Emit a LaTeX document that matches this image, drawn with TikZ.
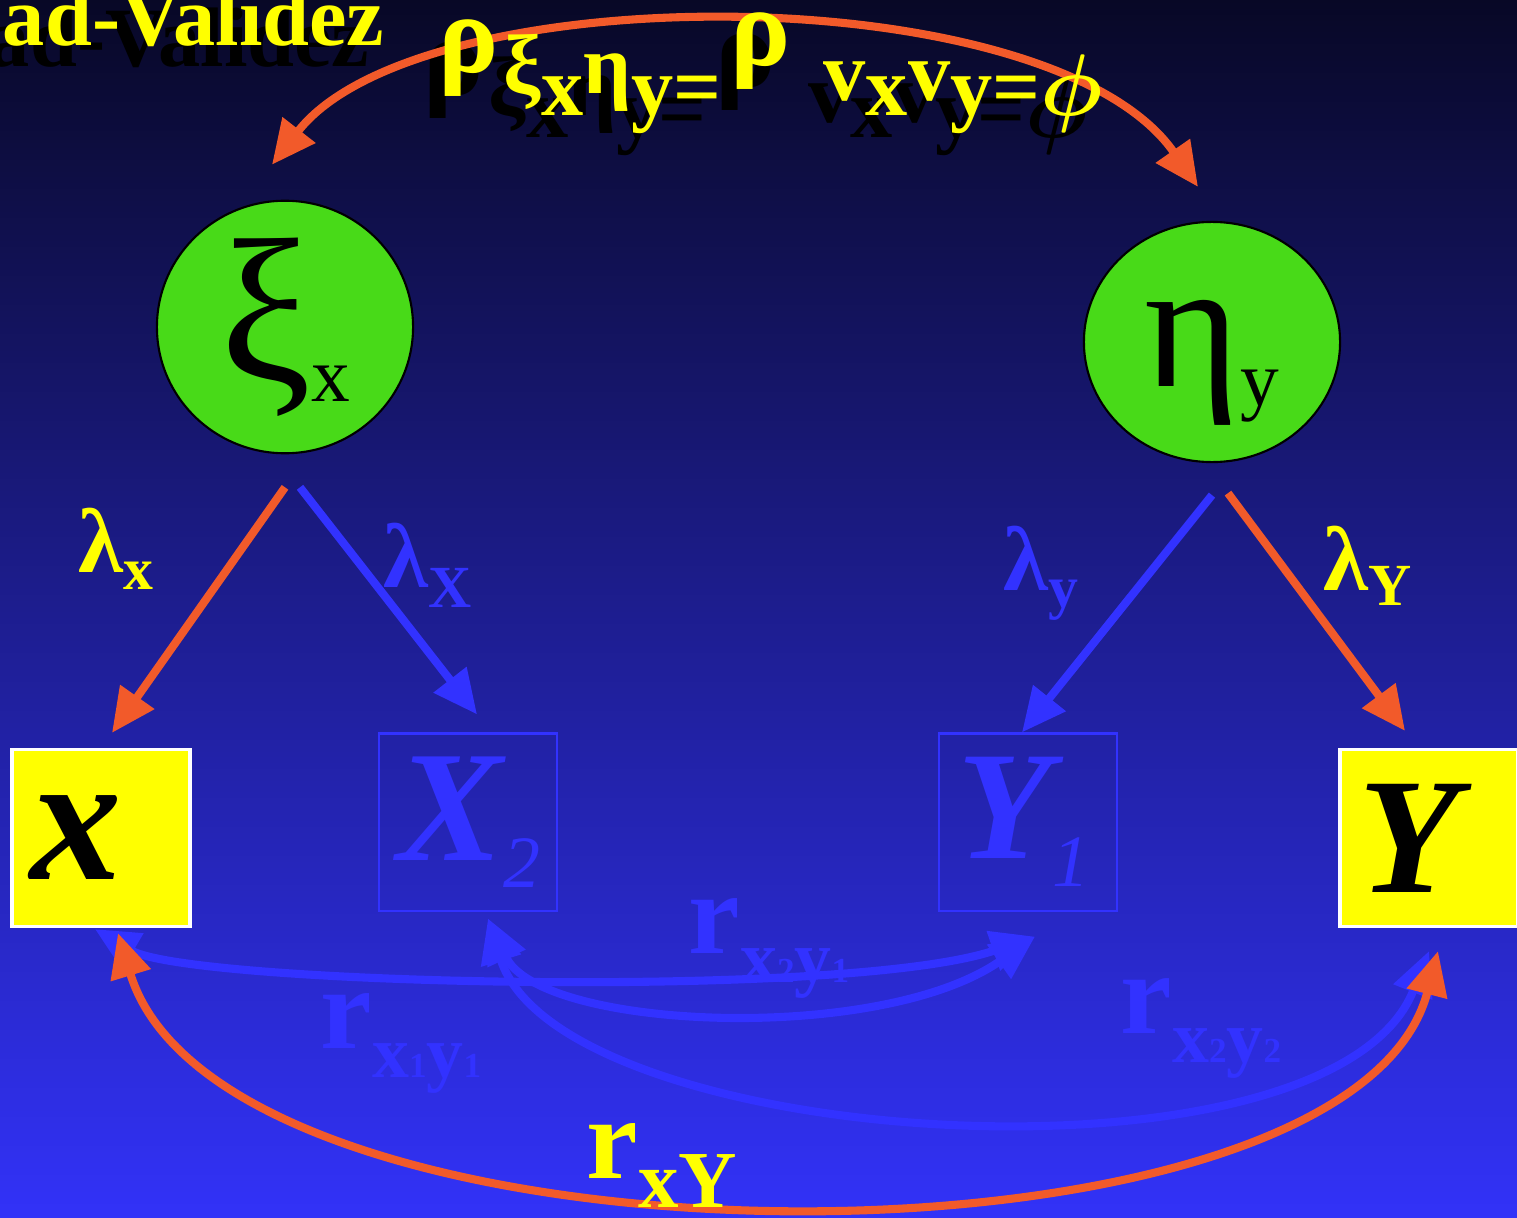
\documentclass[tikz,border=0pt]{standalone}
\usepackage{fontspec}
\setmainfont{Liberation Serif}
\usetikzlibrary{positioning,arrows.meta,shapes.geometric}

\newcommand{\fsz}[1]{\fontsize{#1}{#1}\selectfont}
\definecolor{bgtop}{RGB}{8,8,38}
\definecolor{bgmid}{RGB}{30,30,160}
\definecolor{bgbot}{RGB}{50,50,248}
\definecolor{hiorange}{RGB}{242,90,42}
\definecolor{paleblue}{RGB}{50,50,255}
\definecolor{latentgreen}{RGB}{72,218,24}
\definecolor{hiyellow}{RGB}{255,255,0}

\begin{document}
\begin{tikzpicture}[
        x=0.01cm, y=-0.01cm,
        >={Triangle[length=4.4mm,width=4mm]},
        latent/.style={ellipse, draw=black, line width=0.6pt, fill=latentgreen,
            minimum width=2.56cm, minimum height=2.4cm, inner sep=0pt},
        observed/.style={rectangle, draw=white, line width=0.9pt, fill=hiyellow,
            text width=1.4cm, inner xsep=0.19cm, inner ysep=0pt,
            minimum height=1.77cm, align=left},
        ghostbox/.style={observed, draw=paleblue, fill=none, line width=0.6pt, text=paleblue},
        hiline/.style={draw=hiorange, line width=2.3pt, ->},
        hiboth/.style={hiline, <->},
        ghostline/.style={hiline, draw=paleblue},
        ghostboth/.style={hiboth, draw=paleblue},
        yellowtxt/.style={text=hiyellow, inner sep=0pt, anchor=base west},
        shadowtxt/.style={text=black, inner sep=0pt, anchor=base west},
        ghosttxt/.style={text=paleblue, inner sep=0pt, anchor=base west}
    ]
    \useasboundingbox (0,0) rectangle (1517,1218);
    \clip (0,0) rectangle (1517,1218);
    \shade [top color=bgtop, middle color=bgmid, bottom color=bgbot] (0,0) rectangle (1517,1218);

    % latent variables
    \node [latent] (xi) at (285,327) {\fsz{58}ξ\raisebox{-6pt}{\fsz{22}x}};
    \node [latent] (eta) at (1212,342) {\fsz{52}\vphantom{ξ}η\raisebox{-5.5pt}{\fsz{22}y}};

    % indicators
    \node [observed] (x) at (101,838) {\fsz{52}\bfseries\itshape x};
    \node [observed] (Y) at (1429,838) {\fsz{47}\bfseries\itshape Y};
    \node [ghostbox] (X2) at (468,822) {\fsz{45}\bfseries\itshape X\raisebox{-7.7pt}{\fsz{21}\mdseries 2}};
    \node [ghostbox] (Y1) at (1028,822) {\fsz{44}\bfseries\itshape Y\raisebox{-8pt}{\fsz{21}\mdseries 1}};

    % faint labels
    \node [ghosttxt, font=\fsz{26}\bfseries] (lamX) at (383,587) {λ\raisebox{-5.7pt}{\fsz{17}X}};
    \node [ghosttxt, font=\fsz{26}\bfseries] (lamy) at (1003,590) {λ\raisebox{-5pt}{\fsz{17}y}};
    \node [ghosttxt, font=\fsz{33}\bfseries] (rxtwoyone) at (688,953)
        {r\raisebox{-8.3pt}{\fsz{21}x\fsz{10}2\fsz{21}y\fsz{10}1}};
    \node [ghosttxt, font=\fsz{33}\bfseries] (rxoneyone) at (320,1048)
        {r\raisebox{-8.5pt}{\fsz{21}x\fsz{10}1\fsz{21}y\fsz{10}1}};
    \node [ghosttxt, font=\fsz{33}\bfseries] (rxtwoytwo) at (1120,1033)
        {r\raisebox{-8.3pt}{\fsz{21}x\fsz{10}2\fsz{21}y\fsz{10}2}};

    % faint paths
    \path [ghostline] ([shift={(15,33)}]xi.south) -- ([shift={(9,-18)}]X2.north);
    \path [ghostline] ([shift={(0,32)}]eta.south) -- ([shift={(-6,0)}]Y1.north);
    \path [ghostboth] ([shift={(-6,1)}]x.south) .. controls (190,985) and (850,1000) .. ([shift={(7,25)}]Y1.south);
    \path [ghostboth] ([shift={(20,7)}]X2.south) .. controls (540,1030) and (880,1045) .. ([shift={(7,25)}]Y1.south);
    \path [ghostboth] ([shift={(20,7)}]X2.south) .. controls (560,1150) and (1330,1200) .. ([shift={(0,23)}]Y.south);

    % highlighted paths
    \path [hiline] ([shift={(0,33)}]xi.south) -- ([shift={(11,-15)}]x.north);
    \path [hiline] ([shift={(16,30)}]eta.south) -- ([shift={(-24,-17)}]Y.north);
    \path [hiboth] ([shift={(17,5)}]x.south) .. controls (225,1285) and (1350,1290) .. ([shift={(9,23)}]Y.south);

    % shadows
    \node [shadowtxt, anchor=base east, font=\fsz{24}\bfseries] (titleshd) at (370,67) {ad-Validez};
    \node [shadowtxt, font=\fsz{32}\bfseries] (rhoAshd) at (423,94) {ρ};
    \node [shadowtxt, font=\fsz{24}\bfseries] (subAshd) at (488,137)
        {\raisebox{6pt}{ξ}x\raisebox{6pt}{η}y=};
    \node [shadowtxt, font=\fsz{32}\bfseries] (rhoBshd) at (715,87) {ρ};
    \node [shadowtxt, font=\fsz{24}\bfseries] (subBshd) at (808,137)
        {\raisebox{4pt}{v}x\raisebox{4pt}{v}y={\boldmath$\phi$}};

    \path [hiboth] ([shift={(-13,-35)}]xi.north) .. controls (420,-25) and (1050,-25) .. ([shift={(-14,-34)}]eta.north);

    % yellow texts
    \node [yellowtxt, anchor=base east, font=\fsz{24}\bfseries] (title) at (385,45) {ad-Validez};
    \node [yellowtxt, font=\fsz{32}\bfseries] (rhoA) at (438,72) {ρ};
    \node [yellowtxt, font=\fsz{24}\bfseries] (subA) at (503,115)
        {\raisebox{6pt}{ξ}x\raisebox{6pt}{η}y=};
    \node [yellowtxt, font=\fsz{32}\bfseries] (rhoB) at (730,65) {ρ};
    \node [yellowtxt, font=\fsz{24}\bfseries] (subB) at (823,115)
        {\raisebox{4pt}{v}x\raisebox{4pt}{v}y={\boldmath$\phi$}};
    \node [yellowtxt, font=\fsz{26}\bfseries] (lamx) at (78,572) {λ\raisebox{-5pt}{\fsz{17}x}};
    \node [yellowtxt, font=\fsz{26}\bfseries] (lamY) at (1323,590) {λ\raisebox{-4.3pt}{\fsz{17}Y}};
    \node [yellowtxt, font=\fsz{33}\bfseries] (rxY) at (586,1178) {r\raisebox{-8.3pt}{\fsz{23}xY}};
\end{tikzpicture}
\end{document}
